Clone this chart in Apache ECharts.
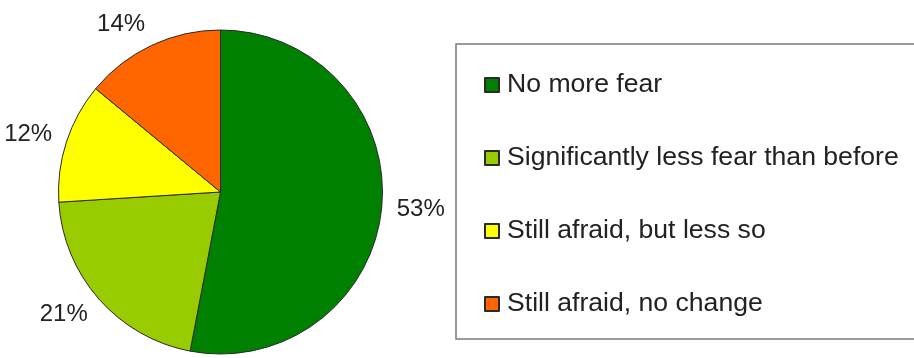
<!DOCTYPE html>
<html>
<head>
<meta charset="utf-8">
<script src="https://cdn.jsdelivr.net/npm/echarts@6/dist/echarts.min.js"></script>
<style>
  html, body { margin: 0; padding: 0; background: #fff; overflow: hidden; }
  #chart { width: 914px; height: 358px; }
</style>
</head>
<body>
<div id="chart"></div>
<script>
// data
var categories = [
  'No more fear',
  'Significantly less fear than before',
  'Still afraid, but less so',
  'Still afraid, no change'
];
var percents = [53, 21, 12, 14];
var colors = ['#008000', '#99cc00', '#ffff00', '#ff6600'];

var chart = echarts.init(document.getElementById('chart'));

var pieCenter = [220.5, 192];
var pieRadius = 162;
var labelDist = 177;
var labelFont = 24;
var total = percents.reduce(function (a, b) { return a + b; }, 0);

// Excel-like placement: anchor on the mid-angle ray, box hangs off it
// on the outer side
function placeLabel(params) {
  var i = params.dataIndex;
  var before = 0;
  for (var j = 0; j < i; j++) before += percents[j];
  var mid = (before + percents[i] / 2) / total * Math.PI * 2;
  var ux = Math.sin(mid), uy = -Math.cos(mid);
  var hw = params.labelRect.width / 2;
  var hh = labelFont * 0.36;
  var px = pieCenter[0] + ux * labelDist;
  var py = pieCenter[1] + uy * labelDist;
  return {
    x: px + (ux < 0 ? -hw : hw),
    y: py + uy * hh,
    align: 'center',
    verticalAlign: 'middle'
  };
}

var option = {
  backgroundColor: '#ffffff',
  animation: false,
  // legend frame is cut off on the right in the original: top, left, bottom only
  graphic: [{
    type: 'polyline',
    shape: { points: [[940, 44], [456, 44], [456, 339], [940, 339]] },
    style: { fill: null, stroke: '#7a7a7a', lineWidth: 1.5 },
    silent: true
  }],
  legend: {
    orient: 'vertical',
    left: 456,
    top: 44,
    padding: [26, 20, 21, 28],
    itemGap: 43,
    itemWidth: 14,
    itemHeight: 14,
    icon: 'rect',
    textStyle: {
      fontFamily: 'Liberation Sans',
      fontSize: 26.6,
      lineHeight: 30,
      color: '#222',
      padding: [0, 0, 0, 3]
    },
    data: categories
  },
  series: [{
    type: 'pie',
    center: pieCenter,
    radius: pieRadius,
    startAngle: 90,
    clockwise: true,
    avoidLabelOverlap: false,
    itemStyle: {
      borderColor: '#2a2a2a',
      borderWidth: 1
    },
    label: {
      show: true,
      position: 'outside',
      formatter: '{c}%',
      fontFamily: 'Liberation Sans',
      fontSize: labelFont,
      color: '#222',
      overflow: 'none'
    },
    labelLine: { show: false },
    labelLayout: placeLabel,
    data: categories.map(function (name, i) {
      return { name: name, value: percents[i], itemStyle: { color: colors[i] } };
    })
  }]
};

chart.setOption(option);
</script>
</body>
</html>
